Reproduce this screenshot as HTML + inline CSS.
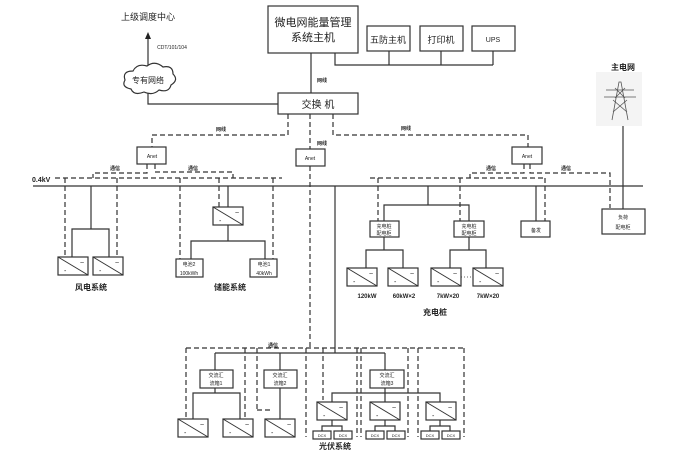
<!DOCTYPE html>
<html><head><meta charset="utf-8"><style>
body{margin:0;background:#fff}
svg{display:block}
text{font-family:"Liberation Sans","Noto Sans CJK SC",sans-serif;fill:#222}
</style></head><body>
<svg width="673" height="454" viewBox="0 0 673 454" xmlns="http://www.w3.org/2000/svg">
<defs>
<g id="inv"><rect x="0" y="0" width="30" height="18" fill="#fff" stroke="#333" stroke-width="1.2"/><line x1="0" y1="0" x2="30" y2="18" stroke="#333"/><text x="22" y="8" font-size="7">~</text><text x="6" y="16" font-size="7">-</text></g>
</defs>
<g stroke="#333" stroke-width="1.2" fill="none">
<!-- top -->
<rect x="268" y="6" width="90" height="47" fill="#fff"/>
<rect x="367" y="26" width="43" height="25"/><rect x="420" y="26" width="43" height="25"/><rect x="472" y="26" width="43" height="25"/>
<polyline points="335,53 335,65 493,65"/><line x1="389" y1="51" x2="389" y2="65"/><line x1="441" y1="51" x2="441" y2="65"/><line x1="493" y1="51" x2="493" y2="65"/>
<line x1="311" y1="53" x2="311" y2="93"/>
<rect x="278" y="93" width="80" height="21"/>
<polyline points="278,104 148,104 148,90"/>
<line x1="148" y1="66" x2="148" y2="38"/>
<path d="M125,80 q-3,-9 8,-9 q4,-8 14,-5 q8,-6 16,1 q10,-2 10,7 q6,6 -2,11 q-2,8 -12,5 q-6,6 -15,2 q-10,4 -13,-3 q-10,-2 -6,-9z" fill="#fff"/>
<!-- dashed comm -->
<g stroke-dasharray="5,3">
<polyline points="288,114 288,135 152,135 152,147"/>
<line x1="310" y1="114" x2="310" y2="149"/>
<polyline points="310,166 310,347"/>
<polyline points="333,114 333,135 528,135 528,147"/>
<polyline points="147,164 147,173 93,173 93,178"/>
<polyline points="155,164 155,172 233,172 233,178"/>
<polyline points="524,164 524,173 470,173 470,178"/>
<polyline points="530,164 530,173 610,173 610,208"/>
<line x1="55" y1="178" x2="282" y2="178"/>
<line x1="370" y1="178" x2="545" y2="178"/>
<line x1="65" y1="178" x2="65" y2="257"/><line x1="117" y1="178" x2="117" y2="257"/>
<line x1="180" y1="178" x2="180" y2="259"/><line x1="273" y1="178" x2="273" y2="259"/><line x1="219" y1="178" x2="219" y2="207"/>
<line x1="378" y1="178" x2="378" y2="221"/><line x1="460" y1="178" x2="460" y2="221"/><line x1="545" y1="178" x2="545" y2="221"/>
<!-- pv dashed -->
<line x1="186" y1="348" x2="464" y2="348"/>
<line x1="186" y1="348" x2="186" y2="437"/><line x1="245" y1="348" x2="245" y2="430"/><line x1="257" y1="348" x2="257" y2="410"/>
<polyline points="257,410 270,410"/>
<line x1="306" y1="348" x2="306" y2="437"/><line x1="323" y1="348" x2="323" y2="400"/><line x1="357" y1="348" x2="357" y2="437"/><line x1="361" y1="348" x2="361" y2="437"/>
<line x1="408" y1="348" x2="408" y2="437"/><line x1="418" y1="348" x2="418" y2="437"/><line x1="464" y1="348" x2="464" y2="437"/>
</g>
<rect x="137" y="147" width="29" height="17" fill="#fff"/>
<rect x="296" y="149" width="29" height="17" fill="#fff"/>
<rect x="512" y="147" width="30" height="17" fill="#fff"/>
<!-- bus -->
<line x1="33" y1="186" x2="643" y2="186"/>
<!-- wind -->
<polyline points="91,186 91,229"/><polyline points="72,257 72,229 109,229 109,257"/>
<!-- storage -->
<line x1="228" y1="186" x2="228" y2="207"/><line x1="228" y1="224" x2="228" y2="241"/>
<polyline points="191,259 191,241 265,241 265,259"/>
<rect x="176" y="259" width="27" height="18" fill="#fff"/><rect x="250" y="259" width="27" height="18" fill="#fff"/>
<!-- pv -->
<line x1="335" y1="186" x2="335" y2="353"/>
<line x1="215" y1="353" x2="385" y2="353"/>
<line x1="215" y1="353" x2="215" y2="370"/><line x1="280" y1="353" x2="280" y2="370"/><line x1="385" y1="353" x2="385" y2="370"/>
<rect x="200" y="370" width="33" height="18" fill="#fff"/><rect x="264" y="370" width="33" height="18" fill="#fff"/><rect x="370" y="370" width="34" height="18" fill="#fff"/>
<line x1="215" y1="388" x2="215" y2="393"/><polyline points="193,419 193,393 240,393 240,419"/>
<line x1="280" y1="388" x2="280" y2="419"/>
<line x1="385" y1="388" x2="385" y2="393"/><polyline points="332,402 332,393 440,393 440,402"/><line x1="385" y1="393" x2="385" y2="402"/>
<line x1="332" y1="418" x2="332" y2="426"/><polyline points="322,431 322,426 342,426 342,431"/>
<line x1="385" y1="418" x2="385" y2="426"/><polyline points="375,431 375,426 395,426 395,431"/>
<line x1="440" y1="418" x2="440" y2="426"/><polyline points="430,431 430,426 450,426 450,431"/>
<rect x="313" y="431" width="18" height="8" fill="#fff"/><rect x="334" y="431" width="18" height="8" fill="#fff"/>
<rect x="366" y="431" width="18" height="8" fill="#fff"/><rect x="387" y="431" width="18" height="8" fill="#fff"/>
<rect x="421" y="431" width="18" height="8" fill="#fff"/><rect x="442" y="431" width="18" height="8" fill="#fff"/>
<!-- charging -->
<line x1="428" y1="186" x2="428" y2="205"/><polyline points="384,221 384,205 469,205 469,221"/>
<rect x="370" y="221" width="29" height="16" fill="#fff"/><rect x="454" y="221" width="30" height="16" fill="#fff"/>
<line x1="384" y1="237" x2="384" y2="250"/><polyline points="366,268 366,250 403,250 403,268"/>
<line x1="469" y1="237" x2="469" y2="250"/><polyline points="450,268 450,250 486,250 486,268"/>
<line x1="536" y1="186" x2="536" y2="221"/><rect x="521" y="221" width="29" height="16" fill="#fff"/>
<line x1="623" y1="126" x2="623" y2="209"/><rect x="602" y="209" width="43" height="25" fill="#fff"/>
<line x1="461" y1="277" x2="473" y2="277" stroke-dasharray="1,2" stroke-width="0.8"/>
</g>
<use href="#inv" x="213" y="207"/>
<use href="#inv" x="58" y="257"/><use href="#inv" x="93" y="257"/>
<use href="#inv" x="347" y="268"/><use href="#inv" x="388" y="268"/><use href="#inv" x="431" y="268"/><use href="#inv" x="473" y="268"/>
<use href="#inv" x="178" y="419"/><use href="#inv" x="223" y="419"/><use href="#inv" x="265" y="419"/>
<use href="#inv" x="317" y="402"/><use href="#inv" x="370" y="402"/><use href="#inv" x="426" y="402"/>
<!-- tower -->
<g stroke="#555" stroke-width="0.8" fill="none">
<rect x="596" y="72" width="46" height="54" fill="#f4f4f4" stroke="none"/>
<polyline points="612,120 619,82 621,82 628,120"/><line x1="606" y1="90" x2="634" y2="90"/><line x1="604" y1="97" x2="636" y2="97"/>
<line x1="613" y1="100" x2="627" y2="112"/><line x1="627" y1="100" x2="613" y2="112"/><line x1="615" y1="88" x2="625" y2="98"/><line x1="625" y1="88" x2="615" y2="98"/>
</g>
<!-- text -->
<g text-anchor="middle">
<text x="313" y="26" font-size="11">微电网能量管理</text><text x="313" y="41" font-size="11">系统主机</text>
<text x="388" y="43" font-size="9">五防主机</text><text x="441" y="43" font-size="9">打印机</text><text x="493" y="42" font-size="7">UPS</text>
<text x="318" y="108" font-size="10">交换 机</text>
<text x="148" y="20" font-size="9">上级调度中心</text>
<text x="148" y="83" font-size="8">专有网络</text>
<text x="172" y="49" font-size="5" fill="#777">CDT/101/104</text>
<text x="322" y="82" font-size="5" font-weight="bold">网线</text>
<text x="221" y="131" font-size="5" font-weight="bold">网线</text>
<text x="322" y="145" font-size="5" font-weight="bold">网线</text>
<text x="406" y="130" font-size="5" font-weight="bold">网线</text>
<text x="115" y="170" font-size="5" font-weight="bold">通信</text><text x="193" y="170" font-size="5" font-weight="bold">通信</text>
<text x="491" y="170" font-size="5" font-weight="bold">通信</text><text x="566" y="170" font-size="5" font-weight="bold">通信</text>
<text x="273" y="347" font-size="5" font-weight="bold">通信</text>
<text x="152" y="158" font-size="5">Anet</text><text x="310" y="160" font-size="5">Anet</text><text x="527" y="158" font-size="5">Anet</text>
<text x="623" y="70" font-size="8" font-weight="bold">主电网</text>
<text x="91" y="290" font-size="8" font-weight="bold">风电系统</text>
<text x="230" y="290" font-size="8" font-weight="bold">储能系统</text>
<text x="189" y="266" font-size="5">电池2</text><text x="189" y="275" font-size="5">100kWh</text>
<text x="264" y="266" font-size="5">电池1</text><text x="264" y="275" font-size="5">40kWh</text>
<text x="384" y="228" font-size="5">充电桩</text><text x="384" y="235" font-size="5">配电柜</text>
<text x="469" y="228" font-size="5">充电桩</text><text x="469" y="235" font-size="5">配电柜</text>
<text x="536" y="232" font-size="5">备发</text>
<text x="623" y="219" font-size="5">负荷</text><text x="623" y="229" font-size="5">配电柜</text>
<text x="367" y="298" font-size="6" font-weight="bold">120kW</text><text x="404" y="298" font-size="6" font-weight="bold">60kW×2</text>
<text x="448" y="298" font-size="6" font-weight="bold">7kW×20</text><text x="488" y="298" font-size="6" font-weight="bold">7kW×20</text>
<text x="435" y="315" font-size="8" font-weight="bold">充电桩</text>
<text x="216" y="377" font-size="5">交流汇</text><text x="216" y="385" font-size="5">流箱1</text>
<text x="280" y="377" font-size="5">交流汇</text><text x="280" y="385" font-size="5">流箱2</text>
<text x="387" y="377" font-size="5">交流汇</text><text x="387" y="385" font-size="5">流箱3</text>
<text x="335" y="449" font-size="8" font-weight="bold">光伏系统</text>
<text x="322" y="437" font-size="4">DCX</text><text x="343" y="437" font-size="4">DCX</text>
<text x="375" y="437" font-size="4">DCX</text><text x="396" y="437" font-size="4">DCX</text>
<text x="430" y="437" font-size="4">DCX</text><text x="451" y="437" font-size="4">DCX</text>
</g>
<text x="32" y="182" font-size="7" font-weight="bold">0.4kV</text>
<polygon points="148,32 145,39 151,39" fill="#222"/>
</svg>
</body></html>
